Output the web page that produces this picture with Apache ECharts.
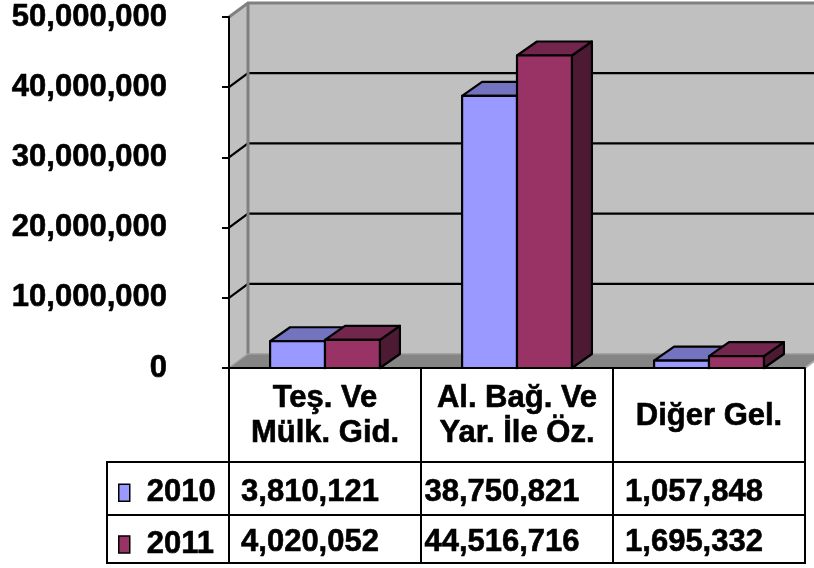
<!DOCTYPE html>
<html><head><meta charset="utf-8">
<script src="https://cdn.jsdelivr.net/npm/echarts@6/dist/echarts.min.js"></script>
<style>html,body{margin:0;padding:0;background:#fff}#c{width:814px;height:568px}</style>
</head><body><div id="c"></div>
<script>
const categories = ['Teş. Ve\nMülk. Gid.', 'Al. Bağ. Ve\nYar. İle Öz.', 'Diğer Gel.'];
const years = ['2010', '2011'];
const values2010 = [3810121, 38750821, 1057848];
const values2011 = [4020052, 44516716, 1695332];
const yTicks = [0, 10000000, 20000000, 30000000, 40000000, 50000000];

const FONT = '"Liberation Sans", Arial, sans-serif';
const FS = 31;
const TFONT = 'bold ' + FS + 'px "Liberation Sans", Arial, sans-serif';
const TB = 0.6; // text thickening stroke
const DX = 19, DY = -14;     // wall depth
const BDX = 20, BDY = -14;   // bar depth
const fmt = v => Number(v).toLocaleString('en-US');
const palette = {
  '2010': {front: '#9999FF', top: '#7373BF', side: '#4D4D80'},
  '2011': {front: '#993366', top: '#73264D', side: '#4D1A33'}
};

function bandInfo(api, i) {
  const c = api.coord([i, 0]);
  const band = api.size([1, 0])[0];
  return {cx: c[0], y0: c[1], band: band};
}

function wallsRender(params, api) {
  const first = bandInfo(api, 0);
  const last = bandInfo(api, categories.length - 1);
  const xl = first.cx - first.band / 2;
  const xr = last.cx + last.band / 2;
  const y0 = first.y0;
  const yTop = api.coord([0, yTicks[yTicks.length - 1]])[1];
  const ch = [];
  ch.push({type: 'polygon', shape: {points: [[xl + DX, yTop + DY], [xr + DX + 20, yTop + DY], [xr + DX + 20, y0 + DY], [xl + DX, y0 + DY]]}, style: {fill: '#C0C0C0'}});
  ch.push({type: 'polygon', shape: {points: [[xl, y0], [xl, yTop], [xl + DX, yTop + DY], [xl + DX, y0 + DY]]}, style: {fill: '#C0C0C0'}});
  ch.push({type: 'polygon', shape: {points: [[xl, y0], [xr, y0], [xr + DX, y0 + DY], [xl + DX, y0 + DY]]}, style: {fill: '#858585'}});
  yTicks.slice(1, -1).forEach(function (v) {
    const y = api.coord([0, v])[1];
    ch.push({type: 'polyline', shape: {points: [[xl, y], [xl + DX, y + DY], [xr + DX + 20, y + DY]]}, style: {stroke: '#000', lineWidth: 2.2, fill: null}});
  });
  ch.push({type: 'polyline', shape: {points: [[xl, yTop], [xl + DX, yTop + DY], [xr + DX + 20, yTop + DY]]}, style: {stroke: '#808080', lineWidth: 3, fill: null}});
  ch.push({type: 'line', shape: {x1: xl + DX, y1: yTop + DY, x2: xl + DX, y2: y0 + DY}, style: {stroke: '#808080', lineWidth: 3}});
  ch.push({type: 'polyline', shape: {points: [[xl, y0], [xl + DX, y0 + DY], [xr + DX, y0 + DY]]}, style: {stroke: '#9a9a9a', lineWidth: 1.5, fill: null}});
  ch.push({type: 'line', shape: {x1: xr, y1: y0, x2: xr + DX, y2: y0 + DY}, style: {stroke: '#b0b0b0', lineWidth: 2}});
  return {type: 'group', children: ch};
}

function barRender(k) {
  return function (params, api) {
    const i = api.value(0), v = api.value(1);
    const b = bandInfo(api, i);
    const w = b.band * 0.286;
    const x0 = k === 0 ? b.cx - w : b.cx;
    const x1 = x0 + w;
    const yT = api.coord([i, v])[1];
    const y0 = b.y0;
    const c = palette[years[k]];
    const st = function (f) { return {fill: f, stroke: '#000', lineWidth: 2.2, lineJoin: 'round'}; };
    return {type: 'group', children: [
      {type: 'polygon', shape: {points: [[x1, yT], [x1 + BDX, yT + BDY], [x1 + BDX, y0 + BDY], [x1, y0]]}, style: st(c.side)},
      {type: 'polygon', shape: {points: [[x0, yT], [x0 + BDX, yT + BDY], [x1 + BDX, yT + BDY], [x1, yT]]}, style: st(c.top)},
      {type: 'rect', shape: {x: x0, y: yT, width: w, height: y0 - yT}, style: st(c.front)}
    ]};
  };
}

function tableRender(params, api) {
  const i = params.dataIndex;
  const b = bandInfo(api, i);
  const y0 = b.y0;
  const xl = b.cx - b.band / 2, xr = b.cx + b.band / 2;
  const rows = [y0 + 94, y0 + 147, y0 + 195];
  const centers = [y0 + 124, y0 + 174];
  const ln = {stroke: '#000', lineWidth: 2};
  const ch = [];
  ch.push({type: 'line', shape: {x1: xl, y1: y0, x2: xl, y2: rows[2]}, style: ln});
  if (i === categories.length - 1) {
    ch.push({type: 'line', shape: {x1: xr, y1: y0, x2: xr, y2: rows[2] + 1}, style: ln});
  }
  if (i === 0) {
    const last = bandInfo(api, categories.length - 1);
    const xEnd = last.cx + last.band / 2 + 1;
    const xStart = xl - 122;
    rows.forEach(function (y) {
      ch.push({type: 'line', shape: {x1: xStart - 1, y1: y, x2: xEnd, y2: y}, style: ln});
    });
    ch.push({type: 'line', shape: {x1: xStart, y1: rows[0], x2: xStart, y2: rows[2]}, style: ln});
  }
  [values2010, values2011].forEach(function (arr, k) {
    ch.push({type: 'text', style: {text: fmt(arr[i]), x: b.cx - 15, y: centers[k], align: 'center', verticalAlign: 'middle', font: TFONT, fill: '#000', stroke: '#000', lineWidth: TB}});
  });
  return {type: 'group', children: ch};
}

const labelStyle = {fontSize: FS, fontWeight: 'bold', fontFamily: FONT, color: '#000', textBorderColor: '#000', textBorderWidth: TB};

const chart = echarts.init(document.getElementById('c'), null, {renderer: 'canvas'});
chart.setOption({
  animation: false,
  backgroundColor: '#fff',
  grid: {left: 229, right: 9, top: 17, bottom: 200, containLabel: false, outerBoundsMode: 'none'},
  legend: {
    data: years, orient: 'vertical', left: 118, top: 477, itemGap: 20, padding: 0,
    itemWidth: 11, itemHeight: 17, icon: 'rect', selectedMode: false,
    itemStyle: {borderColor: '#000', borderWidth: 1.5},
    textStyle: Object.assign({lineHeight: 30, padding: [0, 0, 0, 12]}, labelStyle)
  },
  xAxis: {
    type: 'category', data: categories, z: 5,
    axisLine: {show: true, lineStyle: {color: '#000', width: 2}},
    axisTick: {show: false},
    axisLabel: Object.assign({interval: 0, margin: 48, verticalAlign: 'middle', lineHeight: 35}, labelStyle)
  },
  yAxis: {
    type: 'value', min: yTicks[0], max: yTicks[yTicks.length - 1], interval: yTicks[1] - yTicks[0], z: 5,
    axisLine: {show: true, lineStyle: {color: '#000', width: 2}},
    axisTick: {show: true, length: 7, lineStyle: {color: '#000', width: 2}},
    splitLine: {show: false},
    axisLabel: Object.assign({formatter: function (v) { return fmt(v); }, margin: 62}, labelStyle)
  },
  series: [
    {type: 'custom', name: 'walls', z: 1, silent: true, clip: false, renderItem: wallsRender, data: [[0, 0]], tooltip: {show: false}},
    {type: 'custom', name: years[0], z: 3, clip: false, renderItem: barRender(0), itemStyle: {color: palette['2010'].front},
      data: values2010.map(function (v, i) { return [i, v]; })},
    {type: 'custom', name: years[1], z: 3, clip: false, renderItem: barRender(1), itemStyle: {color: palette['2011'].front},
      data: values2011.map(function (v, i) { return [i, v]; })},
    {type: 'custom', name: 'table', z: 4, silent: true, clip: false, renderItem: tableRender,
      data: categories.map(function (c, i) { return [i, 0]; })}
  ]
});
</script></body></html>
